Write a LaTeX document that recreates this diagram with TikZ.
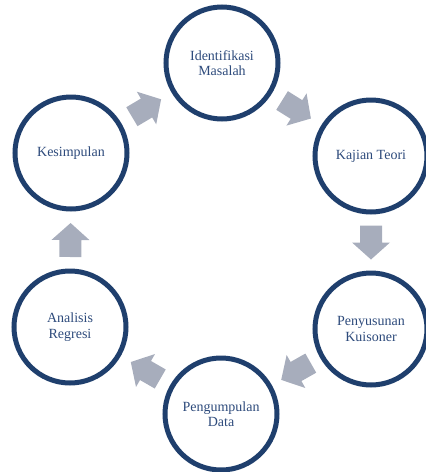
\documentclass[tikz,border=0pt]{standalone}
\usepackage{fontspec}
\setmainfont{Liberation Serif}
\usetikzlibrary{calc}
\definecolor{ringblue}{HTML}{1F3F6D}
\definecolor{txtblue}{HTML}{2E4B7C}
\definecolor{arrgray}{HTML}{A7ADBC}
\tikzset{
  stage/.style={circle, draw=ringblue, line width=5pt, minimum size=112pt, inner sep=0pt,
    align=center, text=txtblue, font=\fontsize{14pt}{15.5pt}\selectfont, fill=white},
  blockarr/.pic={\fill[arrgray] (-17,-11) -- (0,-11) -- (0,-19) -- (17,0) -- (0,19) -- (0,11) -- (-17,11) -- cycle;}
}
\begin{document}
\begin{tikzpicture}[x=1pt,y=-1pt]
\useasboundingbox (0,0) rectangle (426,472);
\node[stage] (iden) at (222,63) {Identifikasi\\Masalah};
\node[stage] (kaji) at (371,156) {Kajian Teori};
\node[stage] (peny) at (371,329) {Penyusunan\\Kuisoner};
\node[stage] (peng) at (221,414) {Pengumpulan\\Data};
\node[stage] (anal) at (70,327) {Analisis\\Regresi};
\node[stage] (kesi) at (71,153) {Kesimpulan};
\foreach \a/\b in {kesi/iden, iden/kaji, kaji/peny, peny/peng, peng/anal, anal/kesi}{
  \path let \p1=($(\b)-(\a)$), \n1={atan2(\y1,\x1)} in
    pic[rotate=\n1] at ($(\a)!0.5!(\b)$) {blockarr};
}
\end{tikzpicture}
\end{document}
